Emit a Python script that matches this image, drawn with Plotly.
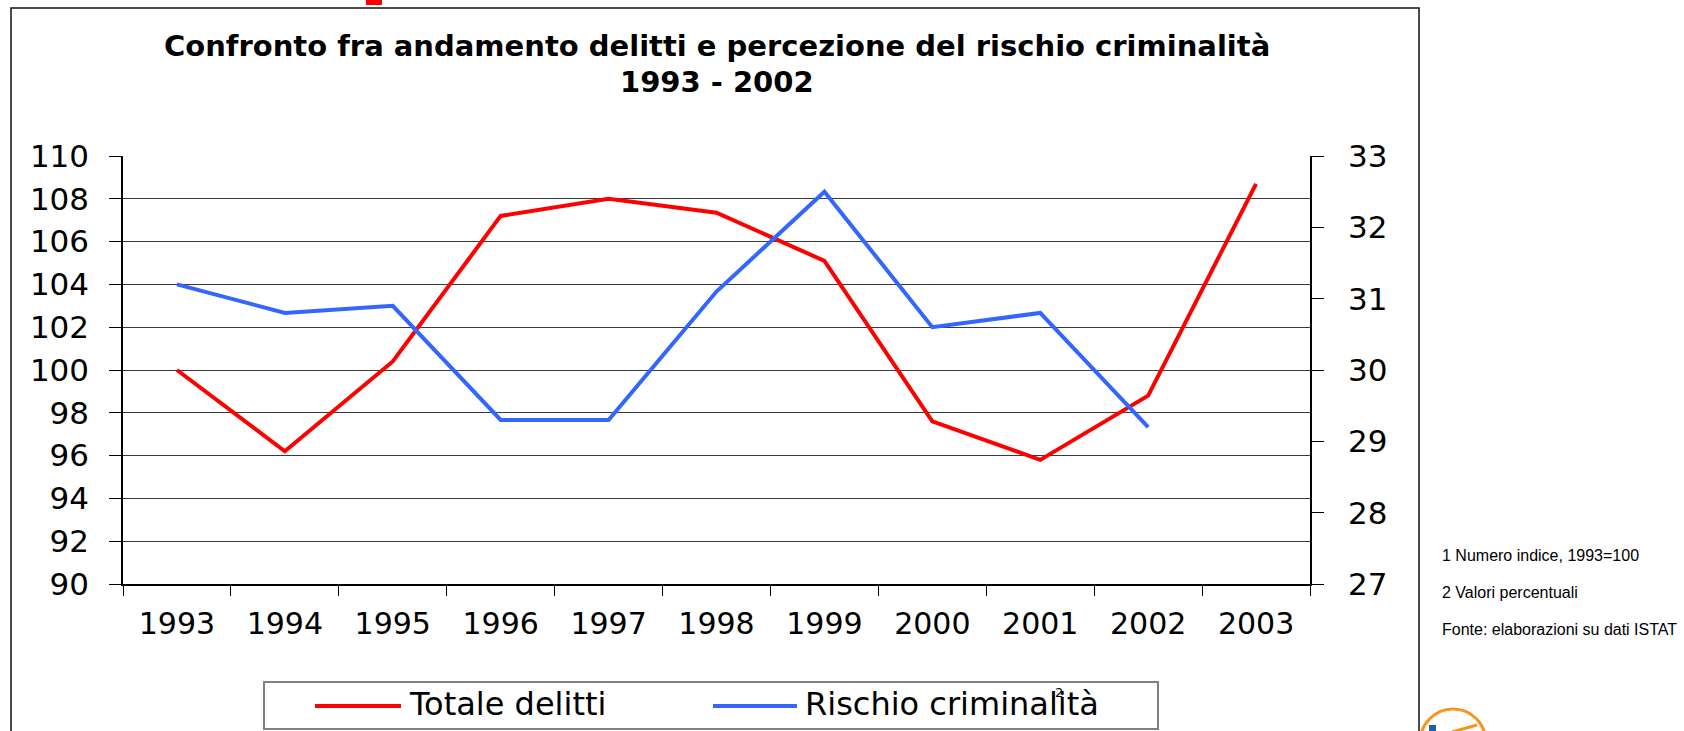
import plotly.graph_objects as go

# data
anni = ["1993", "1994", "1995", "1996", "1997", "1998", "1999", "2000", "2001", "2002", "2003"]
totale_delitti = [100.0, 96.2, 100.4, 107.2, 108.0, 107.35, 105.1, 97.6, 95.8, 98.8, 108.7]
rischio_criminalita = [31.2, 30.8, 30.9, 29.3, 29.3, 31.1, 32.5, 30.6, 30.8, 29.2, None]
note = ["1 Numero indice, 1993=100", "2 Valori percentuali", "Fonte: elaborazioni su dati ISTAT"]

RED = "#FF0000"
BLUE = "#3366FF"
FONT = "DejaVu Sans"

# plot area in pixels
L, R, T, B = 123, 1310, 156, 584


def px(x):
    return (x - L) / (R - L)


def py(y):
    return (B - y) / (B - T)


fig = go.Figure()
fig.add_trace(go.Scatter(
    x=anni, y=totale_delitti, mode="lines", name="Totale delitti",
    line=dict(color=RED, width=4), showlegend=False,
))
fig.add_trace(go.Scatter(
    x=anni, y=rischio_criminalita, mode="lines", name="Rischio criminalità",
    line=dict(color=BLUE, width=4), yaxis="y2", showlegend=False,
))

shapes = [
    # outer chart border
    dict(type="rect", xref="paper", yref="paper", x0=px(11), x1=px(1419), y0=py(760), y1=py(8),
         line=dict(color="#111111", width=1.5), layer="below"),
    # red mark at top
    dict(type="rect", xref="paper", yref="paper", x0=px(366), x1=px(382), y0=py(5), y1=py(-2),
         line=dict(width=0), fillcolor="#FF0000"),
    # legend box
    dict(type="rect", xref="paper", yref="paper", x0=px(264), x1=px(1158), y0=py(729), y1=py(682),
         line=dict(color="#808080", width=2)),
    dict(type="line", xref="paper", yref="paper", x0=px(315), x1=px(401), y0=py(706), y1=py(706),
         line=dict(color=RED, width=4)),
    dict(type="line", xref="paper", yref="paper", x0=px(713), x1=px(797), y0=py(706), y1=py(706),
         line=dict(color=BLUE, width=4)),
    # logo (partially visible)
    dict(type="circle", xref="paper", yref="paper", x0=px(1420), x1=px(1486), y0=py(776), y1=py(709),
         line=dict(color="#F7931E", width=3)),
    dict(type="rect", xref="paper", yref="paper", x0=px(1429), x1=px(1436), y0=py(733), y1=py(725),
         line=dict(width=0), fillcolor="#1F5FA8"),
    dict(type="line", xref="paper", yref="paper", x0=px(1452), x1=px(1477), y0=py(732), y1=py(725),
         line=dict(color="#F7931E", width=3)),
]

annotations = [
    dict(text="Confronto fra andamento delitti e percezione del rischio criminalità",
         xref="paper", yref="paper", x=0.5, y=py(46), xanchor="center", yanchor="middle",
         showarrow=False, font=dict(family=FONT, size=29, color="black", weight="bold")),
    dict(text="1993 - 2002",
         xref="paper", yref="paper", x=0.5, y=py(82), xanchor="center", yanchor="middle",
         showarrow=False, font=dict(family=FONT, size=29, color="black", weight="bold")),
    dict(text="Totale delitti", xref="paper", yref="paper", x=px(407), y=py(704),
         xanchor="left", yanchor="middle", showarrow=False,
         font=dict(family=FONT, size=32, color="black")),
    dict(text="Rischio criminalità", xref="paper", yref="paper", x=px(803), y=py(704),
         xanchor="left", yanchor="middle", showarrow=False,
         font=dict(family=FONT, size=32, color="black")),
    dict(text="2", xref="paper", yref="paper", x=px(1059), y=py(692),
         xanchor="center", yanchor="middle", showarrow=False,
         font=dict(family=FONT, size=13, color="black")),
]
for i, riga in enumerate(note):
    annotations.append(dict(
        text=riga, xref="paper", yref="paper", x=px(1440), y=py(555 + 37 * i),
        xanchor="left", yanchor="middle", showarrow=False,
        font=dict(family="Liberation Sans", size=16, color="black"),
    ))

fig.update_layout(
    width=1684, height=731,
    margin=dict(l=L, r=1684 - R, t=T, b=731 - B, autoexpand=False),
    paper_bgcolor="white", plot_bgcolor="white",
    font=dict(family=FONT, color="black"),
    showlegend=False,
    shapes=shapes,
    annotations=annotations,
    xaxis=dict(
        type="category", categoryorder="array", categoryarray=anni,
        range=[-0.5, 10.5], tickson="boundaries",
        ticks="outside", ticklen=10, tickcolor="black", tickwidth=1,
        showline=True, linecolor="black", linewidth=1.5,
        showgrid=False, tickfont=dict(family=FONT, size=30),
        ticklabelstandoff=12, automargin=False,
    ),
    yaxis=dict(
        range=[90, 110], dtick=2, tick0=90,
        ticks="outside", ticklen=12, tickcolor="black",
        showline=True, linecolor="black", linewidth=1.5,
        showgrid=True, gridcolor="#3a3a3a", gridwidth=1, zeroline=False,
        tickfont=dict(family=FONT, size=31), ticklabelstandoff=14, automargin=False,
    ),
    yaxis2=dict(
        range=[27, 33], dtick=1, tick0=27, overlaying="y", side="right",
        ticks="outside", ticklen=12, tickcolor="black",
        showline=True, linecolor="black", linewidth=1.5,
        showgrid=False, zeroline=False,
        tickfont=dict(family=FONT, size=31), ticklabelstandoff=18, automargin=False,
    ),
)

fig.write_html("out.html", config={"displayModeBar": False},
               post_script="document.body.style.margin='0';")
